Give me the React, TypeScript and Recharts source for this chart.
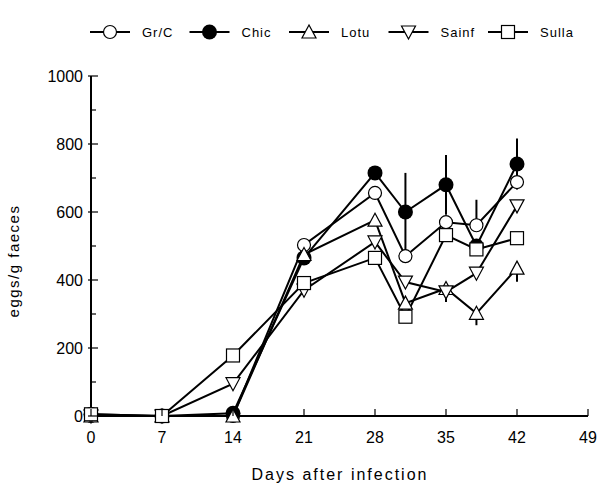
import React from 'react'
import { LineChart, Line, XAxis, YAxis, ErrorBar } from 'recharts'

// days after infection
const days = [0, 7, 14, 21, 28, 31, 35, 38, 42]

// eggs/g faeces per group
const grc = [0, 0, 0, 503, 656, 470, 570, 561, 688]
const chic = [5, 0, 8, 465, 715, 600, 680, 500, 741]
const lotu = [0, 0, 0, 475, 576, 332, 375, 302, 435]
const sainf = [0, 0, 95, 370, 512, 394, 365, 420, 618]
const sulla = [5, 0, 178, 391, 465, 292, 532, 490, 523]

// error bars [below, above]
const grcErr = [[0, 55], [0, 0], [0, 0], [0, 0], [0, 0], [0, 0], [0, 0], [0, 75], [0, 0]]
const chicErr = [[0, 0], [0, 0], [0, 0], [0, 0], [0, 0], [115, 115], [88, 88], [0, 0], [75, 75]]
const lotuErr = [[0, 0], [0, 0], [0, 0], [0, 0], [0, 0], [0, 0], [40, 0], [35, 0], [40, 0]]

const xTicks = [0, 7, 14, 21, 28, 35, 42, 49]
const yTicks = [0, 100, 200, 300, 400, 500, 600, 700, 800, 900, 1000]

type Kind = 'circle' | 'filled' | 'up' | 'down' | 'square'

const series: { key: string; name: string; kind: Kind; err?: string }[] = [
  { key: 'grc', name: 'Gr/C', kind: 'circle', err: 'grcErr' },
  { key: 'chic', name: 'Chic', kind: 'filled', err: 'chicErr' },
  { key: 'lotu', name: 'Lotu', kind: 'up', err: 'lotuErr' },
  { key: 'sainf', name: 'Sainf', kind: 'down' },
  { key: 'sulla', name: 'Sulla', kind: 'square' },
]

const data = days.map((d, i) => ({
  day: d,
  grc: grc[i], chic: chic[i], lotu: lotu[i], sainf: sainf[i], sulla: sulla[i],
  grcErr: grcErr[i], chicErr: chicErr[i], lotuErr: lotuErr[i],
}))

const font = '"Liberation Sans", Arial, sans-serif'

function Marker({ cx, cy, kind }: { cx: number; cy: number; kind: Kind }) {
  const s = { stroke: '#000', strokeWidth: 1.2, fill: '#fff' }
  switch (kind) {
    case 'circle':
      return <circle cx={cx} cy={cy} r={6.5} {...s} />
    case 'filled':
      return <circle cx={cx} cy={cy} r={7.5} fill="#000" />
    case 'up':
      return <polygon points={`${cx},${cy - 7} ${cx - 7},${cy + 6} ${cx + 7},${cy + 6}`} {...s} />
    case 'down':
      return <polygon points={`${cx - 7},${cy - 6} ${cx + 7},${cy - 6} ${cx},${cy + 7}`} {...s} />
    default:
      return <rect x={cx - 6.5} y={cy - 6.5} width={13} height={13} {...s} />
  }
}

function YTick(props: any) {
  const { x, y, payload } = props
  const ax = x + 8
  const major = payload.value % 200 === 0
  return (
    <g>
      <line x1={major ? ax - 3 : ax} x2={ax + (major ? 7 : 5)} y1={y} y2={y} stroke="#000" strokeWidth={1.2} />
      {major && (
        <text x={x} y={y + 6} textAnchor="end" fontSize={16} fontFamily={font} fill="#000">
          {payload.value}
        </text>
      )}
    </g>
  )
}

function XTick(props: any) {
  const { x, y, payload } = props
  const ay = y - 8
  return (
    <g>
      <line x1={x} x2={x} y1={ay} y2={ay - 7} stroke="#000" strokeWidth={1.2} />
      <text x={x} y={y + 19} textAnchor="middle" fontSize={16} fontFamily={font} fill="#000">
        {payload.value}
      </text>
    </g>
  )
}

export default function App() {
  return (
    <div style={{ position: 'absolute', left: 0, top: 0, width: 601, height: 485, background: '#fff' }}>
      <LineChart width={601} height={485} data={data} margin={{ top: 76, right: 13, bottom: 39, left: 0 }}>
        <XAxis
          dataKey="day" type="number" domain={[0, 49]} ticks={xTicks} height={30}
          tickSize={0} tickMargin={8} tick={<XTick />}
          axisLine={{ stroke: '#000', strokeWidth: 2 }}
        />
        <YAxis
          type="number" domain={[0, 1000]} ticks={yTicks} width={91} interval={0}
          tickSize={0} tickMargin={8} tick={<YTick />}
          axisLine={{ stroke: '#000', strokeWidth: 2 }}
        />
        {series.map((s) => (
          <Line
            key={s.key} dataKey={s.key} stroke="#000" strokeWidth={2} isAnimationActive={false}
            dot={(p: any) => <Marker key={`${s.key}-${p.index}`} cx={p.cx} cy={p.cy} kind={s.kind} />}
          >
            {s.err && <ErrorBar dataKey={s.err} direction="y" width={0} stroke="#000" strokeWidth={2} />}
          </Line>
        ))}
      </LineChart>
      <svg width={601} height={485} style={{ position: 'absolute', left: 0, top: 0, pointerEvents: 'none' }}>
        {series.map((s, i) => {
          const x0 = 90 + i * 99.5
          return (
            <g key={s.key}>
              <line x1={x0} x2={x0 + 40} y1={32} y2={32} stroke="#000" strokeWidth={2} />
              <Marker cx={x0 + 20} cy={32} kind={s.kind} />
              <text x={x0 + 52} y={37} fontSize={13} letterSpacing={1} fontFamily={font} fill="#000">
                {s.name}
              </text>
            </g>
          )
        })}
        <text x={340} y={480} textAnchor="middle" fontSize={16} letterSpacing={2} fontFamily={font} fill="#000">
          Days after infection
        </text>
        <text
          x={19} y={261} textAnchor="middle" fontSize={15} letterSpacing={1.5} fontFamily={font} fill="#000"
          transform="rotate(-90 19 261)"
        >
          eggs/g faeces
        </text>
      </svg>
    </div>
  )
}
